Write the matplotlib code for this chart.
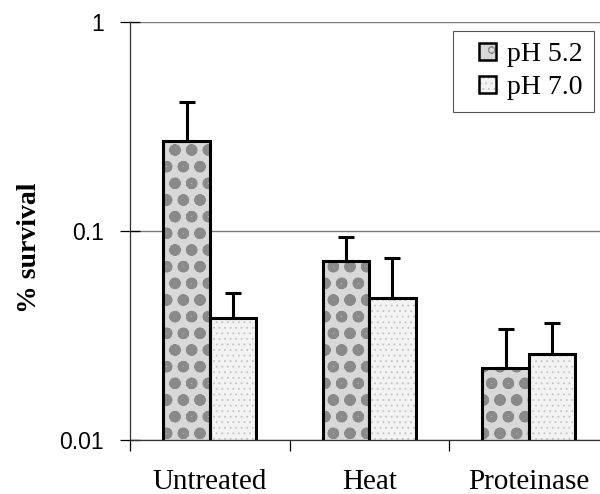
import numpy as np
import matplotlib
matplotlib.use('Agg')
import matplotlib.pyplot as plt
from matplotlib.patches import Patch, Rectangle
from matplotlib.legend_handler import HandlerTuple, HandlerPatch
from matplotlib.ticker import FixedLocator, NullFormatter, NullLocator

# data (upper error only)
categories = ['Untreated', 'Heat', 'Proteinase']
ph52 = [0.27, 0.072, 0.022]
ph52_err = [0.144, 0.022, 0.012]
ph70 = [0.0384, 0.048, 0.0258]
ph70_err = [0.0121, 0.0265, 0.0105]
ytick_vals = [0.01, 0.1, 1]
ytick_labels = ['0.01', '0.1', '1']

serif = 'Liberation Serif'
sans = 'Liberation Sans'

fig = plt.figure(figsize=(6, 4.94), dpi=100)
ax = fig.add_axes([130 / 600, 1 - 440 / 494, 478.5 / 600, 418 / 494])

x = np.arange(len(categories))
w = 0.29

# fill textures, drawn with gray hatch, then black outlines on top
styles = [
    dict(face='#d8d8d8', hatch='o', hcolor='#8a8a8a', hlw=3.5),
    dict(face='#f3f3f3', hatch='...', hcolor='#c4c4c4', hlw=0.6),
]
handles = []
for vals, errs, off, st in [(ph52, ph52_err, -w / 2, styles[0]),
                            (ph70, ph70_err, w / 2, styles[1])]:
    plt.rcParams['hatch.linewidth'] = st['hlw']
    fill = ax.bar(x + off, vals, w, facecolor=st['face'], edgecolor=st['hcolor'],
                  hatch=st['hatch'], linewidth=0, zorder=2)
    for p in fill:
        if hasattr(p, 'set_hatch_linewidth'):
            p.set_hatch_linewidth(st['hlw'])
    outline = ax.bar(x + off, vals, w, facecolor='none', edgecolor='black',
                     linewidth=2.2, zorder=3)
    ax.errorbar(x + off, vals, yerr=[np.zeros(len(vals)), errs], fmt='none',
                ecolor='black', elinewidth=2.2, capsize=5.8, capthick=2.2, zorder=4)
    hp = Patch(facecolor=st['face'], edgecolor=st['hcolor'], hatch=st['hatch'], linewidth=0)
    op = Patch(facecolor='none', edgecolor='black', linewidth=1.8)
    handles.append((hp, op))

ax.set_yscale('log')
ax.set_ylim(0.01, 1)
ax.set_xlim(-0.5, 2.5)
ax.yaxis.set_major_locator(FixedLocator(ytick_vals))
ax.yaxis.set_minor_locator(NullLocator())
ax.set_yticklabels(ytick_labels, fontfamily=sans, fontsize=16.5)
ax.tick_params(axis='y', direction='inout', length=14, width=0.9, pad=12)

ax.set_xticks([-0.5, 0.5, 1.5, 2.5])
ax.xaxis.set_major_formatter(NullFormatter())
ax.set_xticks(x, minor=True)
ax.set_xticklabels(categories, minor=True, fontfamily=serif, fontsize=21)
ax.tick_params(axis='x', which='major', direction='out', length=8, width=0.9)
ax.tick_params(axis='x', which='minor', length=0, pad=21)

ax.yaxis.grid(True, color='#7a7a7a', linewidth=1.0, zorder=0)
ax.set_axisbelow(True)
for s in ['top', 'right']:
    ax.spines[s].set_visible(False)
ax.spines['left'].set_color('#333333')
ax.spines['bottom'].set_color('#333333')
ax.spines['left'].set_linewidth(0.9)
ax.spines['bottom'].set_linewidth(0.9)

ax.set_ylabel('% survival', fontfamily=serif, fontweight='bold', fontsize=20)
ax.yaxis.set_label_coords(-0.183, 0.46)


# legend square sits at the right end of a wider handle box
def square(legend, orig_handle, xdescent, ydescent, width, height, fontsize):
    side = height * 1.1
    return Rectangle((width - side - xdescent, -ydescent - 0.05 * height), side, side)


leg = ax.legend(handles, ['pH 5.2', 'pH 7.0'],
                handler_map={tuple: HandlerTuple(ndivide=1), Patch: HandlerPatch(patch_func=square)},
                loc='upper left', bbox_to_anchor=((453 - 130) / 478.5, (440 - 31) / 418),
                borderaxespad=0, prop={'family': serif, 'size': 20},
                handlelength=1.15, handleheight=0.5, handletextpad=0.4,
                labelspacing=0.3, borderpad=0.4, fancybox=False, framealpha=1)
leg.get_frame().set_edgecolor('#555555')
leg.get_frame().set_linewidth(0.8)

fig.savefig('out.png', dpi=100)
